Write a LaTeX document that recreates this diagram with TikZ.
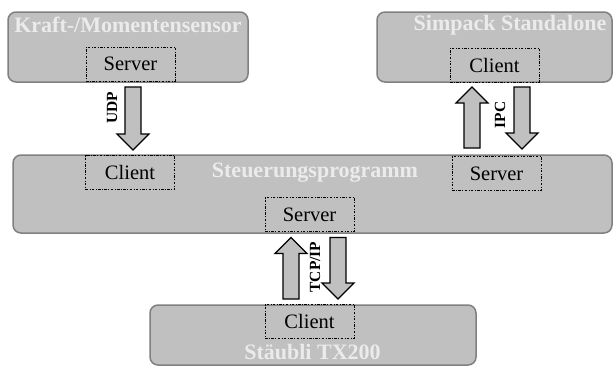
\documentclass[tikz,border=0pt]{standalone}
\usepackage{fontspec}
\setmainfont{Liberation Serif}
\usetikzlibrary{calc}
\definecolor{boxgray}{RGB}{192,192,192}
\definecolor{edgegray}{RGB}{128,128,128}
\definecolor{titlegray}{RGB}{235,235,235}
\begin{document}
\begin{tikzpicture}[x=1pt,y=-1pt,
	big_box/.style={draw=edgegray,fill=boxgray,line width=1.5pt,rounded corners=8pt,inner sep=0pt},
	inner_box/.style={draw=black,line width=0.8pt,dash pattern={on 2.5pt off 1.5pt on 0.8pt off 1.5pt},minimum width=89pt,minimum height=34pt,inner sep=0pt,font=\fontsize{20.5}{24}\selectfont},
	title_text/.style={text=titlegray,inner sep=0pt,font=\fontsize{22}{24}\selectfont\bfseries},
	proto_label/.style={rotate=90,inner sep=0pt,font=\fontsize{15.5}{18}\selectfont\bfseries},
	block_arrow/.style={draw=black,fill=boxgray,line width=1.3pt,to path={
		($(\tikztotarget)!16pt!(\tikztostart)$) coordinate (ah)
		($(\tikztostart)!8pt!90:(\tikztotarget)$) -- ($(ah)!8pt!-90:(\tikztostart)$) -- ($(ah)!16pt!-90:(\tikztostart)$) -- (\tikztotarget) -- ($(ah)!16pt!90:(\tikztostart)$) -- ($(ah)!8pt!90:(\tikztostart)$) -- ($(\tikztostart)!8pt!-90:(\tikztotarget)$) -- cycle}}]
	
	\useasboundingbox (0,0) rectangle (614,367);
	
	% Komponenten
	\node[big_box,minimum width=240pt,minimum height=70pt] (kraft) at (128,47) {};
	\node[big_box,minimum width=235pt,minimum height=70pt] (simpack) at (494.5,47) {};
	\node[big_box,minimum width=599pt,minimum height=78pt] (steuer) at (312.5,194) {};
	\node[big_box,minimum width=326pt,minimum height=60pt] (staeubli) at (313,335) {};
	
	\node[title_text] (kraft_t) at (128,25) {Kraft-/Momentensensor};
	\node[title_text] (simpack_t) at (510,25) {Simpack Standalone};
	\node[title_text] (steuer_t) at (315,173) {Steuerungsprogramm};
	\node[title_text] (staeubli_t) at (312.5,352) {Stäubli TX200};
	
	% Server / Client
	\node[inner_box] (kraft_srv) at (130.5,64) {Server};
	\node[inner_box] (simpack_cl) at (494.5,65) {Client};
	\node[inner_box] (steuer_cl) at (130,172.5) {Client};
	\node[inner_box] (steuer_srv1) at (496.5,173.5) {Server};
	\node[inner_box] (steuer_srv2) at (309.5,214.5) {Server};
	\node[inner_box] (staeubli_cl) at (309.5,321.5) {Client};
	
	% Schnittstellen
	\coordinate (udp_a) at (133,87);
	\coordinate (udp_b) at (133,150);
	\coordinate (ipc_a) at (472,148);
	\coordinate (ipc_b) at (472,87);
	\coordinate (ipc_c) at (522,87);
	\coordinate (ipc_d) at (522,149);
	\coordinate (tcp_a) at (291,299);
	\coordinate (tcp_b) at (291,237.5);
	\coordinate (tcp_c) at (338,237.5);
	\coordinate (tcp_d) at (338,299);
	
	\draw[block_arrow] (udp_a) to (udp_b);
	\draw[block_arrow] (ipc_a) to (ipc_b);
	\draw[block_arrow] (ipc_c) to (ipc_d);
	\draw[block_arrow] (tcp_a) to (tcp_b);
	\draw[block_arrow] (tcp_c) to (tcp_d);
	
	\node[proto_label] (udp) at (112,108) {UDP};
	\node[proto_label] (ipc) at (500,115) {IPC};
	\node[proto_label] (tcp) at (315,267) {TCP/IP};
\end{tikzpicture}
\end{document}
